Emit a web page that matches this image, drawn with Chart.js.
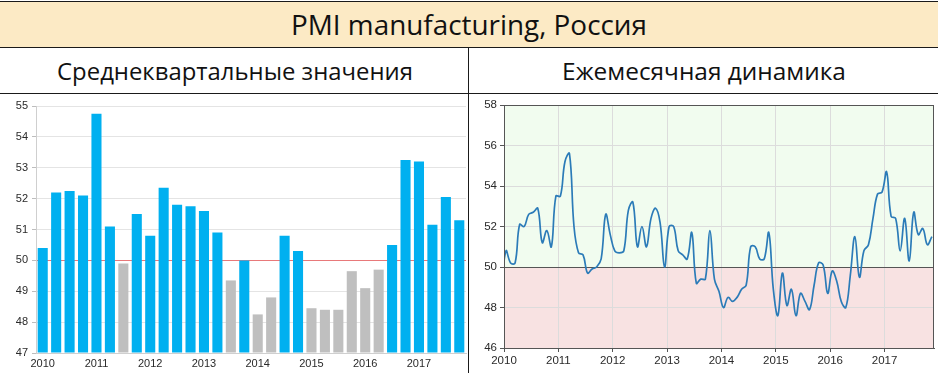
<!DOCTYPE html>
<html><head><meta charset="utf-8">
<script src="https://cdn.jsdelivr.net/npm/chart.js@4.4.1/dist/chart.umd.min.js"></script>
<style>
html,body{margin:0;padding:0;background:#fff;}
#wrap{position:relative;width:938px;height:373px;overflow:hidden;font-family:'Open Sans','Noto Sans',sans-serif;}
.band{position:absolute;left:0;top:2px;width:938px;height:45px;background:#FCEAC5;}
.hl{position:absolute;left:0;width:938px;height:1px;background:#1a1a1a;}
.vl{position:absolute;left:468px;top:47px;width:1px;height:326px;background:#1a1a1a;}
.txt{position:absolute;white-space:nowrap;transform:translate(-50%,-50%);color:#111;line-height:1;}
#c1{position:absolute;left:0;top:95px;}
#c2{position:absolute;left:469px;top:95px;}
</style></head>
<body>
<div id="wrap">
  <div class="band"></div>
  <div class="hl" style="top:1px"></div>
  <div class="hl" style="top:47px"></div>
  <div class="hl" style="top:93px"></div>
  <div class="vl"></div>
  <div class="txt" id="t0" data-w="356" style="left:469px;top:25px;font-size:26px">PMI manufacturing, Россия</div>
  <div class="txt" id="t1" data-w="356" style="left:235px;top:71px;font-size:24px">Среднеквартальные значения</div>
  <div class="txt" id="t2" data-w="284" style="left:704px;top:71px;font-size:24px">Ежемесячная динамика</div>
  <canvas id="c1" width="468" height="278"></canvas>
  <canvas id="c2" width="469" height="278"></canvas>
</div>
<script>
// ---------- DATA ----------
const years = ['2010','2011','2012','2013','2014','2015','2016','2017'];
const quarters = ['Q1','Q2','Q3','Q4'];
const pmiQuarterly = [
  50.4, 52.2, 52.25, 52.1,
  54.75, 51.1, 49.9, 51.5,
  50.8, 52.35, 51.8, 51.75,
  51.6, 50.9, 49.35, 50.0,
  48.25, 48.8, 50.8, 50.3,
  48.45, 48.4, 48.4, 49.65,
  49.1, 49.7, 50.5, 53.25,
  53.2, 51.15, 52.05, 51.3
];
const firstMonth = {year: 2009, month: 12};
const pmiMonthly = [
  49.0,
  50.8, 50.2, 50.2, 52.1, 52.0, 52.6, 52.7, 52.9, 51.2, 51.8, 51.0, 53.5,
  53.5, 55.2, 55.6, 52.0, 50.7, 50.6, 49.7, 49.9, 50.0, 50.4, 52.6, 51.6,
  50.8, 50.7, 50.8, 52.8, 53.2, 51.0, 52.0, 51.0, 52.4, 52.9, 52.2, 50.0,
  52.0, 52.0, 50.8, 50.6, 50.4, 51.7, 49.2, 49.4, 49.4, 51.8, 49.4, 48.8,
  48.0, 48.5, 48.3, 48.5, 48.9, 49.1, 51.0, 51.0, 50.4, 50.4, 51.7, 48.9,
  47.6, 49.7, 48.1, 48.9, 47.6, 48.7, 48.3, 47.9, 49.1, 50.2, 50.1, 48.7,
  49.8, 49.3, 48.3, 48.0, 49.6, 51.5, 49.5, 50.8, 51.1, 52.4, 53.6, 53.7,
  54.7, 52.5, 52.4, 50.8, 52.4, 50.3, 52.7, 51.6, 51.9, 51.1, 51.5
];
const threshold = 50;
const leftYTicks = {min: 47, max: 55, step: 1};
const rightYTicks = {min: 46, max: 58, step: 2};
const rightXRange = {min: 2010, max: 2017.91};

// ---------- header text fit ----------
(function(){
  const cv = document.createElement('canvas').getContext('2d');
  ['t0','t1','t2'].forEach(id=>{
    const el = document.getElementById(id);
    const target = +el.dataset.w;
    const fs = parseFloat(el.style.fontSize);
    cv.font = fs + "px 'Open Sans'";
    const w = cv.measureText(el.textContent).width;
    el.style.fontSize = (fs * target / w).toFixed(2) + 'px';
  });
})();

Chart.defaults.font.family = "'Liberation Sans', Arial, sans-serif";
Chart.defaults.animation = false;

// ---------- LEFT: quarterly bars ----------
const quarterLabels = [];
years.forEach(y => quarters.forEach(q => quarterLabels.push(y + ' ' + q)));

new Chart(document.getElementById('c1'), {
  type: 'bar',
  data: {
    labels: quarterLabels,
    datasets: [{
      data: pmiQuarterly,
      backgroundColor: ctx => (ctx.raw >= threshold ? '#00B0F0' : '#BFBFBF'),
      barPercentage: 0.75,
      categoryPercentage: 1.0,
      base: leftYTicks.min
    }]
  },
  options: {
    responsive: false,
    layout: {padding: {left: 0, right: 2, top: 11, bottom: 0}},
    plugins: {legend: {display: false}, tooltip: {enabled: false}},
    scales: {
      x: {
        grid: {display: false, drawTicks: false},
        border: {display: true, color: '#cfcfcf'},
        ticks: {
          autoSkip: false, maxRotation: 0, padding: 4,
          color: '#2a2a2a', font: {size: 11},
          callback: function(v, i){ const l = this.getLabelForValue(v); return l.endsWith('Q1') ? l.slice(0,4) : ''; }
        },
        afterFit: s => { s.height = 20; }
      },
      y: {
        min: leftYTicks.min, max: leftYTicks.max,
        ticks: {stepSize: leftYTicks.step, color: '#2a2a2a', font: {size: 11}, padding: 4},
        grid: {
          color: ctx => (ctx.tick && ctx.tick.value === threshold ? '#E8797A' : '#E4E4E4'),
          tickLength: 4, tickColor: '#bdbdbd'
        },
        border: {display: true, color: '#cfcfcf'},
        afterFit: s => { s.width = 36; }
      }
    }
  }
});

// ---------- RIGHT: monthly line ----------
const monthlyPoints = pmiMonthly.map((v, i) => {
  const m0 = firstMonth.month - 1 + i;
  const yr = firstMonth.year + Math.floor(m0 / 12);
  const mo = m0 % 12;
  return {x: yr + (mo + 0.45) / 12, y: v};
});

const zonePlugin = {
  id: 'zones',
  beforeDraw(chart) {
    const {ctx, chartArea: a, scales: {y}} = chart;
    const yt = y.getPixelForValue(threshold);
    ctx.save();
    ctx.fillStyle = '#F1FCEF';
    ctx.fillRect(a.left, a.top, a.right - a.left, yt - a.top);
    ctx.fillStyle = '#F8E2E2';
    ctx.fillRect(a.left, yt, a.right - a.left, a.bottom - yt);
    ctx.restore();
  },
  afterDraw(chart) {
    const {ctx, chartArea: a} = chart;
    ctx.save();
    ctx.strokeStyle = '#555';
    ctx.lineWidth = 1;
    ctx.strokeRect(Math.round(a.left) + 0.5, Math.round(a.top) + 0.5, Math.round(a.right - a.left) - 1, Math.round(a.bottom - a.top));
    ctx.restore();
  }
};

new Chart(document.getElementById('c2'), {
  type: 'line',
  data: {
    datasets: [{
      data: monthlyPoints,
      borderColor: '#2B7BB8',
      borderWidth: 1.7,
      pointRadius: 0,
      tension: 0.4,
      fill: false
    }]
  },
  options: {
    responsive: false,
    layout: {padding: {left: 0, right: 4, top: 10, bottom: 0}},
    plugins: {legend: {display: false}, tooltip: {enabled: false}},
    scales: {
      x: {
        type: 'linear',
        min: rightXRange.min, max: rightXRange.max,
        ticks: {
          stepSize: 1, includeBounds: false, maxRotation: 0, padding: 2,
          color: '#2a2a2a', font: {size: 11.5},
          callback: v => (Number.isInteger(v) ? String(v) : '')
        },
        grid: {color: '#DCDCDC', tickLength: 4, tickColor: '#555'},
        border: {display: true, color: '#555'},
        afterFit: s => { s.height = 25; }
      },
      y: {
        min: rightYTicks.min, max: rightYTicks.max,
        ticks: {stepSize: rightYTicks.step, color: '#2a2a2a', font: {size: 11.5}, padding: 3},
        grid: {
          color: ctx => (ctx.tick && ctx.tick.value === threshold ? '#555' : '#DCDCDC'),
          tickLength: 4, tickColor: '#555'
        },
        border: {display: true, color: '#555'},
        afterFit: s => { s.width = 35; }
      }
    }
  },
  plugins: [zonePlugin]
});
</script>
</body></html>
